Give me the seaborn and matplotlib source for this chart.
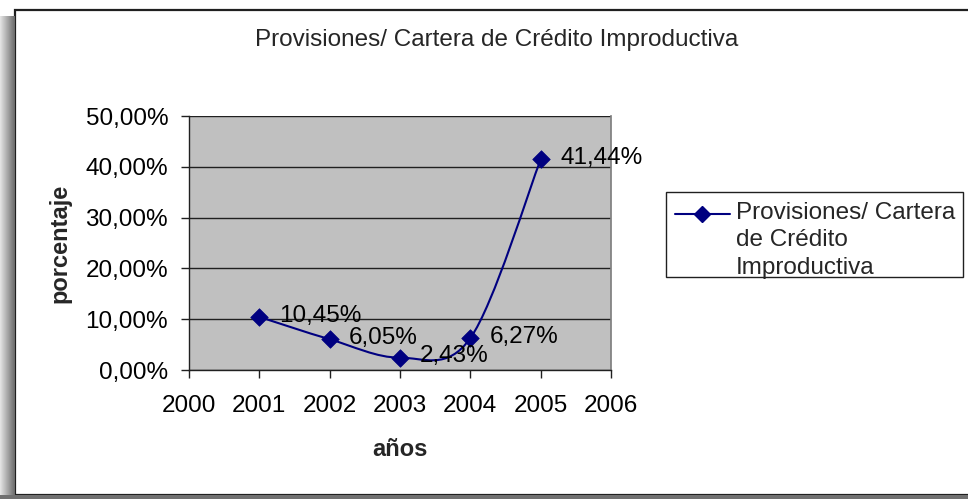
import numpy as np
import matplotlib
matplotlib.use("Agg")
import matplotlib.pyplot as plt
import matplotlib.ticker as mticker
from matplotlib.patches import Rectangle, PathPatch
from matplotlib.path import Path
from matplotlib.lines import Line2D
import seaborn as sns

# ── Data ──────────────────────────────────────────────────────────────────────
years = [2001, 2002, 2003, 2004, 2005]
ratio = [0.1045, 0.0605, 0.0243, 0.0627, 0.4144]
x_ticks = [2000, 2001, 2002, 2003, 2004, 2005, 2006]
y_ticks = [0.0, 0.1, 0.2, 0.3, 0.4, 0.5]
legend_lines = ["Provisiones/ Cartera", "de Crédito", "Improductiva"]
title = "Provisiones/ Cartera de Crédito Improductiva"

LINE_COLOR = "#000080"
PLOT_BG = "#C0C0C0"
W, H = 968, 499
FS = 17.5

sns.set_theme(style="white")
plt.rcParams["font.family"] = ["Liberation Sans", "DejaVu Sans"]


def pct(v, _=None):
    return f"{v * 100:.2f}%".replace(".", ",")


def smooth_path(xs, ys):
    # Excel-style smoothed line: cubic Bezier through each point
    px = [xs[0]] + list(xs) + [xs[-1]]
    py = [ys[0]] + list(ys) + [ys[-1]]
    verts = [(xs[0], ys[0])]
    codes = [Path.MOVETO]
    for i in range(1, len(px) - 2):
        c1 = (px[i] + (px[i + 1] - px[i - 1]) / 6, py[i] + (py[i + 1] - py[i - 1]) / 6)
        c2 = (px[i + 1] - (px[i + 2] - px[i]) / 6, py[i + 1] - (py[i + 2] - py[i]) / 6)
        verts += [c1, c2, (px[i + 1], py[i + 1])]
        codes += [Path.CURVE4] * 3
    return Path(verts, codes)


def fx(px):
    return px / W


def fy(py):
    return 1 - py / H


fig = plt.figure(figsize=(W / 100, H / 100), dpi=100)
fig.patch.set_facecolor("white")

# shadow on the left and bottom of the chart frame
sh = fig.add_axes([0, 0, 15 / W, 1 - 16 / H])
grad = np.linspace(0.9, 0.42, 64).reshape(1, -1)
sh.imshow(grad, aspect="auto", cmap="gray", vmin=0, vmax=1, extent=[0, 1, 0, 1])
sh.set_axis_off()
fig.add_artist(Rectangle((0, 0), 1, 4 / H, transform=fig.transFigure,
                         facecolor="#707070", edgecolor="none"))
# chart frame (right edge runs off the image, as in the original)
fig.add_artist(Rectangle((fx(15), fy(495)), (975 - 15) / W, (495 - 10) / H,
                         transform=fig.transFigure, facecolor="white",
                         edgecolor="#202020", linewidth=1.6, zorder=0))

ax = fig.add_axes([fx(189), fy(370), (611 - 189) / W, (370 - 116) / H])
ax.set_facecolor(PLOT_BG)

ax.add_patch(PathPatch(smooth_path(years, ratio), facecolor="none",
                       edgecolor=LINE_COLOR, linewidth=1.5, zorder=3))
sns.scatterplot(x=years, y=ratio, marker="D", s=80, color=LINE_COLOR,
                edgecolor=LINE_COLOR, linewidth=0.5, ax=ax, zorder=4, legend=False)

for x, v in zip(years, ratio):
    ax.annotate(pct(v), xy=(x, v), xytext=(14, 1), textcoords="offset points",
                va="center", ha="left", fontsize=FS, color="black", zorder=5,
                annotation_clip=False)

ax.set_xlim(2000, 2006)
ax.set_ylim(0, 0.5)
ax.set_xticks(x_ticks)
ax.set_yticks(y_ticks)
ax.yaxis.set_major_formatter(mticker.FuncFormatter(pct))
ax.grid(axis="y", color="#202020", linewidth=1.0)
ax.grid(axis="x", visible=False)
ax.set_axisbelow(True)
ax.tick_params(axis="both", direction="out", length=6, width=1.0, color="#202020",
               labelsize=FS, labelcolor="black")
ax.tick_params(axis="x", pad=12, bottom=True)
ax.tick_params(axis="y", pad=9, left=True)
for side in ["left", "bottom"]:
    ax.spines[side].set_color("#202020")
    ax.spines[side].set_linewidth(1.0)
ax.spines["right"].set_color("#808080")
ax.spines["top"].set_visible(False)

ax.set_xlabel("años", fontsize=17, fontweight="bold")
ax.set_ylabel("porcentaje", fontsize=17, fontweight="bold")
ax.xaxis.set_label_coords(0.5, (370 - 450) / 254)
ax.xaxis.label.set_va("center")
ax.yaxis.set_label_coords((60 - 189) / 422, 0.5)
ax.yaxis.label.set_va("center")

fig.text(fx(497), fy(40), title, ha="center", va="center", fontsize=FS)

# legend box, drawn as in the original (marker aligned with first text line)
fig.add_artist(Rectangle((fx(666), fy(277)), (963 - 666) / W, (277 - 192) / H,
                         transform=fig.transFigure, facecolor="white",
                         edgecolor="#202020", linewidth=1.0, zorder=5))
fig.add_artist(Line2D([fx(675), fx(702), fx(730)], [fy(214)] * 3,
                      transform=fig.transFigure, color=LINE_COLOR, linewidth=1.5,
                      marker="D", markersize=8, markevery=[1], zorder=6))
for i, line in enumerate(legend_lines):
    fig.text(fx(736), fy(219 + 27.5 * i), line, ha="left", va="baseline",
             fontsize=FS, zorder=6)

fig.savefig("out.png", dpi=100)
